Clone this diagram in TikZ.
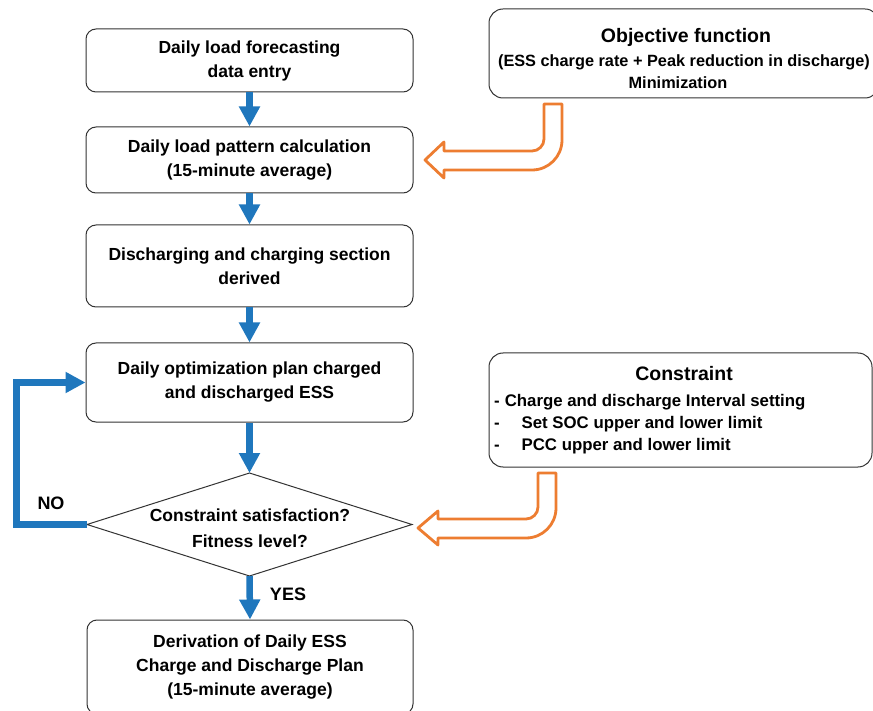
\documentclass[tikz,border=0pt]{standalone}
\usepackage{fontspec}
\setmainfont{Liberation Sans}
\usetikzlibrary{arrows.meta}

\definecolor{flowblue}{RGB}{31,119,189}
\definecolor{hintorange}{RGB}{237,125,49}

\begin{document}
\begin{tikzpicture}[x=1pt,y=-1pt,
  stepbox/.style={draw=black!80, line width=1pt, rounded corners=10pt, fill=white,
    inner sep=0pt, align=center, font=\fontsize{17.5}{24}\selectfont\bfseries},
  notebox/.style={draw=black!80, line width=1pt, rounded corners=14pt, fill=white, inner sep=0pt},
  flow/.style={draw=flowblue, line width=6.5pt, -{Triangle[width=20pt,length=20pt]}},
  hint/.style={draw=hintorange, line width=2.8pt, line join=round, fill=white},
  bigtext/.style={inner sep=0pt, font=\fontsize{19.5}{24}\selectfont\bfseries},
  smalltext/.style={inner sep=0pt, font=\fontsize{16.3}{20}\selectfont\bfseries},
  itemtext/.style={inner sep=0pt, font=\fontsize{16.8}{20}\selectfont\bfseries},
  tag/.style={inner sep=0pt, font=\fontsize{18}{20}\selectfont\bfseries}]

\useasboundingbox (0,0) rectangle (873,711);
\clip (0,0) rectangle (873,711);

% main flow steps
\node[stepbox, minimum width=327pt, minimum height=63pt] (load) at (249.5,60.5)
  {Daily load forecasting\\data entry};
\node[stepbox, minimum width=327pt, minimum height=66pt] (pattern) at (249.5,160)
  {Daily load pattern calculation\\(15-minute average)};
\node[stepbox, minimum width=327pt, minimum height=82pt] (section) at (249.5,266)
  {Discharging and charging section\\derived};
\node[stepbox, minimum width=327pt, minimum height=79pt] (plan) at (249.5,382.5)
  {Daily optimization plan charged\\and discharged ESS};
\node[stepbox, minimum width=326pt, minimum height=94pt] (result) at (250,667)
  {Derivation of Daily ESS\\Charge and Discharge Plan\\(15-minute average)};

% decision diamond
\coordinate (dtop) at (249.5,473);
\coordinate (dbot) at (249.5,576);
\coordinate (dleft) at (87,524.5);
\coordinate (dright) at (412,524.5);
\draw[draw=black!80, line width=1pt, fill=white] (dtop) -- (dright) -- (dbot) -- (dleft) -- cycle;
\node[inner sep=0pt, align=center, font=\fontsize{17.5}{26}\selectfont\bfseries] (check) at (250,528)
  {Constraint satisfaction?\\Fitness level?};

% objective box
\node[notebox, minimum width=390pt, minimum height=89pt] (objective) at (684,53.5) {};
\node[bigtext] (objtitle) at (686,37) {Objective function};
\node[smalltext] (objterm) at (684,62) {(ESS charge rate + Peak reduction in discharge)};
\node[smalltext] (objmin) at (678,83) {Minimization};

% constraint box
\node[notebox, minimum width=383pt, minimum height=114pt] (constraint) at (680.5,410) {};
\node[bigtext] (contitle) at (684,374) {Constraint};
\node[itemtext, anchor=west] (con1) at (494,402) {-\hspace{0.3em}Charge and discharge Interval setting};
\node[itemtext, anchor=west] (con2) at (494,424) {-\hspace{1.3em}Set SOC upper and lower limit};
\node[itemtext, anchor=west] (con3) at (494,446) {-\hspace{1.3em}PCC upper and lower limit};

% flow connectors
\draw[flow] (load.south) -- (pattern.north);
\draw[flow] (pattern.south) -- (section.north);
\draw[flow] (section.south) -- (plan.north);
\draw[flow] (plan.south) -- (dtop);
\draw[flow] (dbot) -- (result.north);

% feedback loop
\coordinate (loopcorner) at (16,524.5);
\draw[flow, line width=7pt] (dleft) -- (loopcorner) |- (plan.west);
\node[tag] (no) at (51,503) {NO};
\node[tag] (yes) at (288,594) {YES};

% orange hint arrows
\draw[hint] (544,104) -- (562,104) -- (562,140)
  .. controls (562,156.6) and (548.6,170) .. (532,170)
  -- (444,170) -- (444,178) -- (425,160) -- (444,142) -- (444,151) -- (532,151)
  .. controls (538.6,151) and (544,145.6) .. (544,139) -- cycle;
\draw[hint] (538,473) -- (556,473) -- (556,508)
  .. controls (556,524.6) and (542.6,538) .. (526,538)
  -- (438,538) -- (438,545) -- (418,528) -- (438,511) -- (438,519) -- (526,519)
  .. controls (532.6,519) and (538,513.6) .. (538,507) -- cycle;
\end{tikzpicture}
\end{document}
